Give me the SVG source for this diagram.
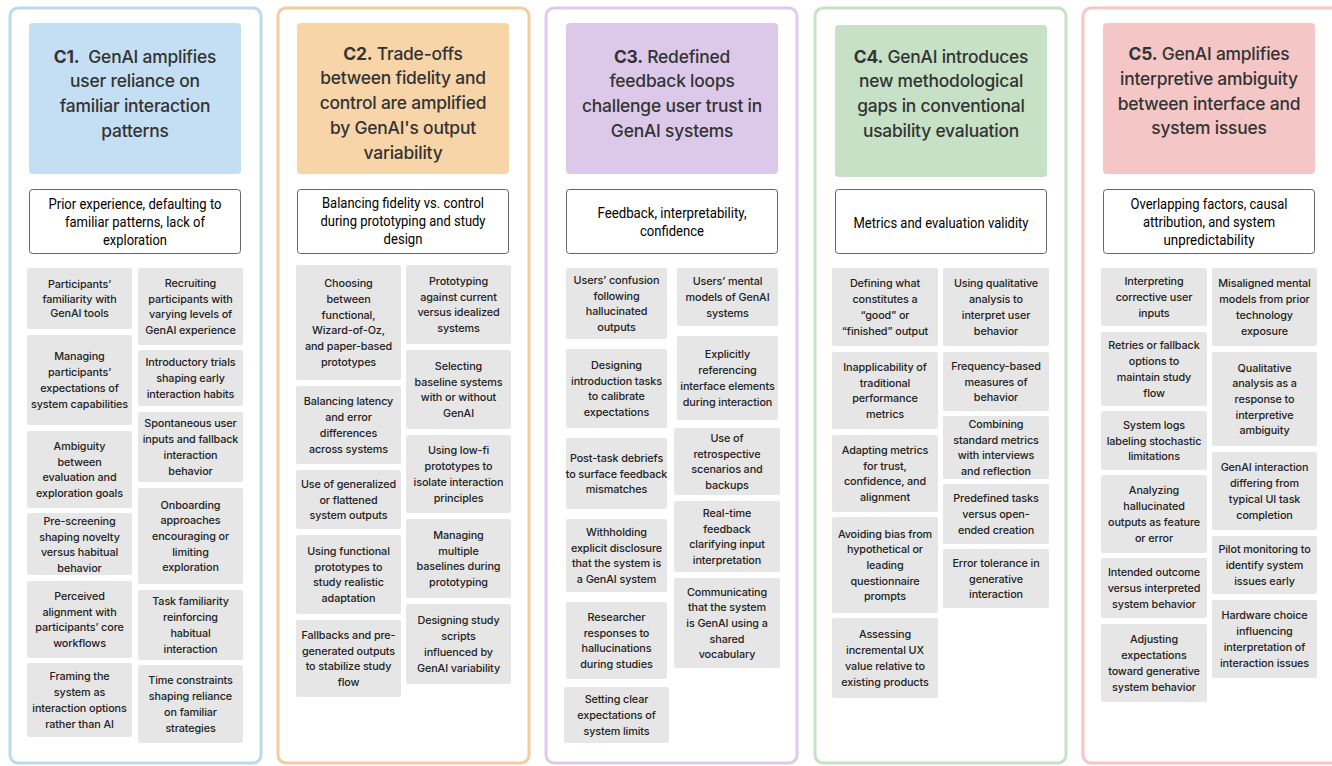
<svg xmlns="http://www.w3.org/2000/svg" width="1332" height="766" viewBox="0 0 1332 766">
<style>
.frame{fill:#ffffff;stroke-width:3}
.title{font-family:Inter,"Noto Sans",sans-serif;font-size:17.4px;font-weight:500;fill:#333333;text-anchor:middle;letter-spacing:-0.2px}
.title .b{font-weight:700}
.subbox{fill:#ffffff;stroke:#666666;stroke-width:1}
.sub{font-family:Roboto,"Liberation Sans",sans-serif;font-size:14.5px;fill:#000000;text-anchor:middle}
.card{fill:#e6e6e6}
.ct{font-family:Inter,"Noto Sans",sans-serif;font-size:10.8px;font-weight:500;fill:#222222;text-anchor:middle;letter-spacing:-0.1px}
</style>
<rect width="1332" height="766" fill="#ffffff"/>

<!-- ================= C1 ================= -->
<g id="col-c1">
<rect class="frame" x="10" y="8" width="251" height="755" rx="8" stroke="#bcdaee"/>
<g id="c1-title">
<rect x="29" y="23" width="212" height="151" rx="4" fill="#c4dff3"/>
<text class="title" y="62.5" xml:space="preserve"><tspan x="135"><tspan class="b">C1.</tspan>  GenAI amplifies</tspan><tspan x="135" dy="24.8">user reliance on</tspan><tspan x="135" dy="24.8">familiar interaction</tspan><tspan x="135" dy="24.8">patterns</tspan></text>
</g>
<g id="c1-sub">
<rect class="subbox" x="29.5" y="189.5" width="211" height="64" rx="3"/>
<text class="sub" x="135" y="208.5" textLength="173" lengthAdjust="spacingAndGlyphs">Prior experience, defaulting to</text>
<text class="sub" x="135" y="226.8" textLength="140" lengthAdjust="spacingAndGlyphs">familiar patterns, lack of</text>
<text class="sub" x="135" y="245" textLength="64" lengthAdjust="spacingAndGlyphs">exploration</text>
</g>
<g id="c1-l1"><rect class="card" x="27" y="268" width="105" height="61" rx="2"/><text class="ct" y="288"><tspan x="79.5">Participants’</tspan><tspan x="79.5" dy="14.5">familiarity with</tspan><tspan x="79.5" dy="14.5">GenAI tools</tspan></text></g>
<g id="c1-l2"><rect class="card" x="27" y="335" width="105" height="90" rx="2"/><text class="ct" y="360.45"><tspan x="79.5">Managing</tspan><tspan x="79.5" dy="15.7">participants’</tspan><tspan x="79.5" dy="15.7">expectations of</tspan><tspan x="79.5" dy="15.7">system capabilities</tspan></text></g>
<g id="c1-l3"><rect class="card" x="27" y="431" width="105" height="77" rx="2"/><text class="ct" y="449.95"><tspan x="79.5">Ambiguity</tspan><tspan x="79.5" dy="15.7">between</tspan><tspan x="79.5" dy="15.7">evaluation and</tspan><tspan x="79.5" dy="15.7">exploration goals</tspan></text></g>
<g id="c1-l4"><rect class="card" x="27" y="513" width="105" height="62" rx="2"/><text class="ct" y="525"><tspan x="79.5">Pre-screening</tspan><tspan x="79.5" dy="15.7">shaping novelty</tspan><tspan x="79.5" dy="15.7">versus habitual</tspan><tspan x="79.5" dy="15.7">behavior</tspan></text></g>
<g id="c1-l5"><rect class="card" x="27" y="581" width="105" height="77" rx="2"/><text class="ct" y="599.95"><tspan x="79.5">Perceived</tspan><tspan x="79.5" dy="15.7">alignment with</tspan><tspan x="79.5" dy="15.7">participants’ core</tspan><tspan x="79.5" dy="15.7">workflows</tspan></text></g>
<g id="c1-l6"><rect class="card" x="27" y="663" width="105" height="74" rx="2"/><text class="ct" y="680.45"><tspan x="79.5">Framing the</tspan><tspan x="79.5" dy="15.7">system as</tspan><tspan x="79.5" dy="15.7">interaction options</tspan><tspan x="79.5" dy="15.7">rather than AI</tspan></text></g>
<g id="c1-r1"><rect class="card" x="138" y="268" width="105" height="77" rx="2"/><text class="ct" y="286.95"><tspan x="190.5">Recruiting</tspan><tspan x="190.5" dy="15.7">participants with</tspan><tspan x="190.5" dy="15.7">varying levels of</tspan><tspan x="190.5" dy="15.7">GenAI experience</tspan></text></g>
<g id="c1-r2"><rect class="card" x="138" y="350" width="105" height="56" rx="2"/><text class="ct" y="366.3"><tspan x="190.5">Introductory trials</tspan><tspan x="190.5" dy="15.7">shaping early</tspan><tspan x="190.5" dy="15.7">interaction habits</tspan></text></g>
<g id="c1-r3"><rect class="card" x="138" y="412" width="105" height="70" rx="2"/><text class="ct" y="427.45"><tspan x="190.5">Spontaneous user</tspan><tspan x="190.5" dy="15.7">inputs and fallback</tspan><tspan x="190.5" dy="15.7">interaction</tspan><tspan x="190.5" dy="15.7">behavior</tspan></text></g>
<g id="c1-r4"><rect class="card" x="138" y="488" width="105" height="96" rx="2"/><text class="ct" y="508.6"><tspan x="190.5">Onboarding</tspan><tspan x="190.5" dy="15.7">approaches</tspan><tspan x="190.5" dy="15.7">encouraging or</tspan><tspan x="190.5" dy="15.7">limiting</tspan><tspan x="190.5" dy="15.7">exploration</tspan></text></g>
<g id="c1-r5"><rect class="card" x="138" y="590" width="105" height="70" rx="2"/><text class="ct" y="605.45"><tspan x="190.5">Task familiarity</tspan><tspan x="190.5" dy="15.7">reinforcing</tspan><tspan x="190.5" dy="15.7">habitual</tspan><tspan x="190.5" dy="15.7">interaction</tspan></text></g>
<g id="c1-r6"><rect class="card" x="138" y="665" width="105" height="78" rx="2"/><text class="ct" y="684.45"><tspan x="190.5">Time constraints</tspan><tspan x="190.5" dy="15.7">shaping reliance</tspan><tspan x="190.5" dy="15.7">on familiar</tspan><tspan x="190.5" dy="15.7">strategies</tspan></text></g>
</g>

<!-- ================= C2 ================= -->
<g id="col-c2">
<rect class="frame" x="278" y="8" width="251" height="755" rx="8" stroke="#f4cc9e"/>
<g id="c2-title">
<rect x="297" y="23" width="212" height="151" rx="4" fill="#f7d5a8"/>
<text class="title" y="59.5"><tspan x="403"><tspan class="b">C2.</tspan> Trade-offs</tspan><tspan x="403" dy="24.8">between fidelity and</tspan><tspan x="403" dy="24.8">control are amplified</tspan><tspan x="403" dy="24.8">by GenAI's output</tspan><tspan x="403" dy="24.8">variability</tspan></text>
</g>
<g id="c2-sub">
<rect class="subbox" x="297.5" y="189.5" width="211" height="64" rx="3"/>
<text class="sub" x="403" y="208" textLength="162" lengthAdjust="spacingAndGlyphs">Balancing fidelity vs. control</text>
<text class="sub" x="403" y="226" textLength="165" lengthAdjust="spacingAndGlyphs">during prototyping and study</text>
<text class="sub" x="403" y="244" textLength="39" lengthAdjust="spacingAndGlyphs">design</text>
</g>
<g id="c2-l1"><rect class="card" x="296" y="265" width="105" height="115" rx="2"/><text class="ct" y="287.25"><tspan x="348.5">Choosing</tspan><tspan x="348.5" dy="15.7">between</tspan><tspan x="348.5" dy="15.7">functional,</tspan><tspan x="348.5" dy="15.7">Wizard-of-Oz,</tspan><tspan x="348.5" dy="15.7">and paper-based</tspan><tspan x="348.5" dy="15.7">prototypes</tspan></text></g>
<g id="c2-l2"><rect class="card" x="296" y="386" width="105" height="78" rx="2"/><text class="ct" y="405.45"><tspan x="348.5">Balancing latency</tspan><tspan x="348.5" dy="15.7">and error</tspan><tspan x="348.5" dy="15.7">differences</tspan><tspan x="348.5" dy="15.7">across systems</tspan></text></g>
<g id="c2-l3"><rect class="card" x="296" y="470" width="105" height="59" rx="2"/><text class="ct" y="487.8"><tspan x="348.5">Use of generalized</tspan><tspan x="348.5" dy="15.7">or flattened</tspan><tspan x="348.5" dy="15.7">system outputs</tspan></text></g>
<g id="c2-l4"><rect class="card" x="296" y="535" width="105" height="79" rx="2"/><text class="ct" y="554.95"><tspan x="348.5">Using functional</tspan><tspan x="348.5" dy="15.7">prototypes to</tspan><tspan x="348.5" dy="15.7">study realistic</tspan><tspan x="348.5" dy="15.7">adaptation</tspan></text></g>
<g id="c2-l5"><rect class="card" x="296" y="620" width="105" height="77" rx="2"/><text class="ct" y="638.95"><tspan x="348.5">Fallbacks and pre-</tspan><tspan x="348.5" dy="15.7">generated outputs</tspan><tspan x="348.5" dy="15.7">to stabilize study</tspan><tspan x="348.5" dy="15.7">flow</tspan></text></g>
<g id="c2-r1"><rect class="card" x="406" y="265" width="105" height="79" rx="2"/><text class="ct" y="284.95"><tspan x="458.5">Prototyping</tspan><tspan x="458.5" dy="15.7">against current</tspan><tspan x="458.5" dy="15.7">versus idealized</tspan><tspan x="458.5" dy="15.7">systems</tspan></text></g>
<g id="c2-r2"><rect class="card" x="406" y="350" width="105" height="79" rx="2"/><text class="ct" y="369.95"><tspan x="458.5">Selecting</tspan><tspan x="458.5" dy="15.7">baseline systems</tspan><tspan x="458.5" dy="15.7">with or without</tspan><tspan x="458.5" dy="15.7">GenAI</tspan></text></g>
<g id="c2-r3"><rect class="card" x="406" y="435" width="105" height="78" rx="2"/><text class="ct" y="454.45"><tspan x="458.5">Using low-fi</tspan><tspan x="458.5" dy="15.7">prototypes to</tspan><tspan x="458.5" dy="15.7">isolate interaction</tspan><tspan x="458.5" dy="15.7">principles</tspan></text></g>
<g id="c2-r4"><rect class="card" x="406" y="519" width="105" height="79" rx="2"/><text class="ct" y="538.95"><tspan x="458.5">Managing</tspan><tspan x="458.5" dy="15.7">multiple</tspan><tspan x="458.5" dy="15.7">baselines during</tspan><tspan x="458.5" dy="15.7">prototyping</tspan></text></g>
<g id="c2-r5"><rect class="card" x="406" y="604" width="105" height="80" rx="2"/><text class="ct" y="624.45"><tspan x="458.5">Designing study</tspan><tspan x="458.5" dy="15.7">scripts</tspan><tspan x="458.5" dy="15.7">influenced by</tspan><tspan x="458.5" dy="15.7">GenAI variability</tspan></text></g>
</g>

<!-- ================= C3 ================= -->
<g id="col-c3">
<rect class="frame" x="546" y="8" width="251" height="755" rx="8" stroke="#dccbec"/>
<g id="c3-title">
<rect x="566" y="23" width="212" height="151" rx="4" fill="#dcc9e9"/>
<text class="title" y="62.5"><tspan x="672"><tspan class="b">C3.</tspan> Redefined</tspan><tspan x="672" dy="24.8">feedback loops</tspan><tspan x="672" dy="24.8">challenge user trust in</tspan><tspan x="672" dy="24.8">GenAI systems</tspan></text>
</g>
<g id="c3-sub">
<rect class="subbox" x="566.5" y="189.5" width="211" height="64" rx="3"/>
<text class="sub" x="672" y="218" textLength="149" lengthAdjust="spacingAndGlyphs">Feedback, interpretability,</text>
<text class="sub" x="672" y="236" textLength="64" lengthAdjust="spacingAndGlyphs">confidence</text>
</g>
<g id="c3-l1"><rect class="card" x="566" y="268" width="101" height="71" rx="2"/><text class="ct" y="283.95"><tspan x="616.5">Users’ confusion</tspan><tspan x="616.5" dy="15.7">following</tspan><tspan x="616.5" dy="15.7">hallucinated</tspan><tspan x="616.5" dy="15.7">outputs</tspan></text></g>
<g id="c3-l2"><rect class="card" x="566" y="349" width="101" height="79" rx="2"/><text class="ct" y="368.95"><tspan x="616.5">Designing</tspan><tspan x="616.5" dy="15.7">introduction tasks</tspan><tspan x="616.5" dy="15.7">to calibrate</tspan><tspan x="616.5" dy="15.7">expectations</tspan></text></g>
<g id="c3-l3"><rect class="card" x="566" y="438" width="101" height="71" rx="2"/><text class="ct" y="461.8"><tspan x="616.5">Post-task debriefs</tspan><tspan x="616.5" dy="15.7">to surface feedback</tspan><tspan x="616.5" dy="15.7">mismatches</tspan></text></g>
<g id="c3-l4"><rect class="card" x="566" y="519" width="101" height="73" rx="2"/><text class="ct" y="535.95"><tspan x="616.5">Withholding</tspan><tspan x="616.5" dy="15.7">explicit disclosure</tspan><tspan x="616.5" dy="15.7">that the system is</tspan><tspan x="616.5" dy="15.7">a GenAI system</tspan></text></g>
<g id="c3-l5"><rect class="card" x="566" y="602" width="101" height="77" rx="2"/><text class="ct" y="620.95"><tspan x="616.5">Researcher</tspan><tspan x="616.5" dy="15.7">responses to</tspan><tspan x="616.5" dy="15.7">hallucinations</tspan><tspan x="616.5" dy="15.7">during studies</tspan></text></g>
<g id="c3-l6"><rect class="card" x="564" y="687" width="105" height="56" rx="2"/><text class="ct" y="703.3"><tspan x="616.5">Setting clear</tspan><tspan x="616.5" dy="15.7">expectations of</tspan><tspan x="616.5" dy="15.7">system limits</tspan></text></g>
<g id="c3-r1"><rect class="card" x="677" y="268" width="101" height="58" rx="2"/><text class="ct" y="285.3"><tspan x="727.5">Users’ mental</tspan><tspan x="727.5" dy="15.7">models of GenAI</tspan><tspan x="727.5" dy="15.7">systems</tspan></text></g>
<g id="c3-r2"><rect class="card" x="677" y="336" width="101" height="84" rx="2"/><text class="ct" y="358.45"><tspan x="727.5">Explicitly</tspan><tspan x="727.5" dy="15.7">referencing</tspan><tspan x="727.5" dy="15.7">interface elements</tspan><tspan x="727.5" dy="15.7">during interaction</tspan></text></g>
<g id="c3-r3"><rect class="card" x="674" y="428" width="106" height="67" rx="2"/><text class="ct" y="441.95"><tspan x="727">Use of</tspan><tspan x="727" dy="15.7">retrospective</tspan><tspan x="727" dy="15.7">scenarios and</tspan><tspan x="727" dy="15.7">backups</tspan></text></g>
<g id="c3-r4"><rect class="card" x="674" y="501" width="106" height="71" rx="2"/><text class="ct" y="516.95"><tspan x="727">Real-time</tspan><tspan x="727" dy="15.7">feedback</tspan><tspan x="727" dy="15.7">clarifying input</tspan><tspan x="727" dy="15.7">interpretation</tspan></text></g>
<g id="c3-r5"><rect class="card" x="674" y="578" width="106" height="90" rx="2"/><text class="ct" y="595.6"><tspan x="727">Communicating</tspan><tspan x="727" dy="15.7">that the system</tspan><tspan x="727" dy="15.7">is GenAI using a</tspan><tspan x="727" dy="15.7">shared</tspan><tspan x="727" dy="15.7">vocabulary</tspan></text></g>
</g>

<!-- ================= C4 ================= -->
<g id="col-c4">
<rect class="frame" x="815" y="8" width="251" height="755" rx="8" stroke="#c5e3c3"/>
<g id="c4-title">
<rect x="835" y="25" width="212" height="152" rx="4" fill="#c6e1c6"/>
<text class="title" y="62.5"><tspan x="941"><tspan class="b">C4.</tspan> GenAI introduces</tspan><tspan x="941" dy="24.8">new methodological</tspan><tspan x="941" dy="24.8">gaps in conventional</tspan><tspan x="941" dy="24.8">usability evaluation</tspan></text>
</g>
<g id="c4-sub">
<rect class="subbox" x="835.5" y="189.5" width="211" height="64" rx="3"/>
<text class="sub" x="941" y="228" textLength="175" lengthAdjust="spacingAndGlyphs">Metrics and evaluation validity</text>
</g>
<g id="c4-l1"><rect class="card" x="832" y="268" width="106" height="78" rx="2"/><text class="ct" y="287.45"><tspan x="885">Defining what</tspan><tspan x="885" dy="15.7">constitutes a</tspan><tspan x="885" dy="15.7">“good” or</tspan><tspan x="885" dy="15.7">“finished” output</tspan></text></g>
<g id="c4-l2"><rect class="card" x="832" y="352" width="106" height="77" rx="2"/><text class="ct" y="370.95"><tspan x="885">Inapplicability of</tspan><tspan x="885" dy="15.7">traditional</tspan><tspan x="885" dy="15.7">performance</tspan><tspan x="885" dy="15.7">metrics</tspan></text></g>
<g id="c4-l3"><rect class="card" x="832" y="435" width="106" height="77" rx="2"/><text class="ct" y="453.95"><tspan x="885">Adapting metrics</tspan><tspan x="885" dy="15.7">for trust,</tspan><tspan x="885" dy="15.7">confidence, and</tspan><tspan x="885" dy="15.7">alignment</tspan></text></g>
<g id="c4-l4"><rect class="card" x="832" y="517" width="106" height="96" rx="2"/><text class="ct" y="537.6"><tspan x="885">Avoiding bias from</tspan><tspan x="885" dy="15.7">hypothetical or</tspan><tspan x="885" dy="15.7">leading</tspan><tspan x="885" dy="15.7">questionnaire</tspan><tspan x="885" dy="15.7">prompts</tspan></text></g>
<g id="c4-l5"><rect class="card" x="832" y="618" width="106" height="80" rx="2"/><text class="ct" y="638.45"><tspan x="885">Assessing</tspan><tspan x="885" dy="15.7">incremental UX</tspan><tspan x="885" dy="15.7">value relative to</tspan><tspan x="885" dy="15.7">existing products</tspan></text></g>
<g id="c4-r1"><rect class="card" x="943" y="268" width="106" height="78" rx="2"/><text class="ct" y="287.45"><tspan x="996">Using qualitative</tspan><tspan x="996" dy="15.7">analysis to</tspan><tspan x="996" dy="15.7">interpret user</tspan><tspan x="996" dy="15.7">behavior</tspan></text></g>
<g id="c4-r2"><rect class="card" x="943" y="352" width="106" height="59" rx="2"/><text class="ct" y="369.8"><tspan x="996">Frequency-based</tspan><tspan x="996" dy="15.7">measures of</tspan><tspan x="996" dy="15.7">behavior</tspan></text></g>
<g id="c4-r3"><rect class="card" x="943" y="416" width="106" height="63" rx="2"/><text class="ct" y="427.95"><tspan x="996">Combining</tspan><tspan x="996" dy="15.7">standard metrics</tspan><tspan x="996" dy="15.7">with interviews</tspan><tspan x="996" dy="15.7">and reflection</tspan></text></g>
<g id="c4-r4"><rect class="card" x="943" y="484" width="106" height="60" rx="2"/><text class="ct" y="502.3"><tspan x="996">Predefined tasks</tspan><tspan x="996" dy="15.7">versus open-</tspan><tspan x="996" dy="15.7">ended creation</tspan></text></g>
<g id="c4-r5"><rect class="card" x="943" y="549" width="106" height="59" rx="2"/><text class="ct" y="566.8"><tspan x="996">Error tolerance in</tspan><tspan x="996" dy="15.7">generative</tspan><tspan x="996" dy="15.7">interaction</tspan></text></g>
</g>

<!-- ================= C5 ================= -->
<g id="col-c5">
<rect class="frame" x="1083" y="8" width="262" height="755" rx="8" stroke="#f6c5c5"/>
<g id="c5-title">
<rect x="1103" y="23" width="212" height="151" rx="4" fill="#f4c6c6"/>
<text class="title" y="60"><tspan x="1209"><tspan class="b">C5.</tspan> GenAI amplifies</tspan><tspan x="1209" dy="24.8">interpretive ambiguity</tspan><tspan x="1209" dy="24.8">between interface and</tspan><tspan x="1209" dy="24.8">system issues</tspan></text>
</g>
<g id="c5-sub">
<rect class="subbox" x="1103.5" y="189.5" width="211" height="64" rx="3"/>
<text class="sub" x="1209" y="208.5" textLength="157" lengthAdjust="spacingAndGlyphs">Overlapping factors, causal</text>
<text class="sub" x="1209" y="226.5" textLength="132" lengthAdjust="spacingAndGlyphs">attribution, and system</text>
<text class="sub" x="1209" y="244.5" textLength="91" lengthAdjust="spacingAndGlyphs">unpredictability</text>
</g>
<g id="c5-l1"><rect class="card" x="1101" y="268" width="106" height="58" rx="2"/><text class="ct" y="285.3"><tspan x="1154">Interpreting</tspan><tspan x="1154" dy="15.7">corrective user</tspan><tspan x="1154" dy="15.7">inputs</tspan></text></g>
<g id="c5-l2"><rect class="card" x="1101" y="332" width="106" height="74" rx="2"/><text class="ct" y="349.45"><tspan x="1154">Retries or fallback</tspan><tspan x="1154" dy="15.7">options to</tspan><tspan x="1154" dy="15.7">maintain study</tspan><tspan x="1154" dy="15.7">flow</tspan></text></g>
<g id="c5-l3"><rect class="card" x="1101" y="411" width="106" height="59" rx="2"/><text class="ct" y="428.8"><tspan x="1154">System logs</tspan><tspan x="1154" dy="15.7">labeling stochastic</tspan><tspan x="1154" dy="15.7">limitations</tspan></text></g>
<g id="c5-l4"><rect class="card" x="1101" y="475" width="106" height="78" rx="2"/><text class="ct" y="494.45"><tspan x="1154">Analyzing</tspan><tspan x="1154" dy="15.7">hallucinated</tspan><tspan x="1154" dy="15.7">outputs as feature</tspan><tspan x="1154" dy="15.7">or error</tspan></text></g>
<g id="c5-l5"><rect class="card" x="1101" y="558" width="106" height="60" rx="2"/><text class="ct" y="576.3"><tspan x="1154">Intended outcome</tspan><tspan x="1154" dy="15.7">versus interpreted</tspan><tspan x="1154" dy="15.7">system behavior</tspan></text></g>
<g id="c5-l6"><rect class="card" x="1101" y="624" width="106" height="78" rx="2"/><text class="ct" y="643.45"><tspan x="1154">Adjusting</tspan><tspan x="1154" dy="15.7">expectations</tspan><tspan x="1154" dy="15.7">toward generative</tspan><tspan x="1154" dy="15.7">system behavior</tspan></text></g>
<g id="c5-r1"><rect class="card" x="1212" y="268" width="105" height="78" rx="2"/><text class="ct" y="287.45"><tspan x="1264.5">Misaligned mental</tspan><tspan x="1264.5" dy="15.7">models from prior</tspan><tspan x="1264.5" dy="15.7">technology</tspan><tspan x="1264.5" dy="15.7">exposure</tspan></text></g>
<g id="c5-r2"><rect class="card" x="1212" y="352" width="105" height="94" rx="2"/><text class="ct" y="371.6"><tspan x="1264.5">Qualitative</tspan><tspan x="1264.5" dy="15.7">analysis as a</tspan><tspan x="1264.5" dy="15.7">response to</tspan><tspan x="1264.5" dy="15.7">interpretive</tspan><tspan x="1264.5" dy="15.7">ambiguity</tspan></text></g>
<g id="c5-r3"><rect class="card" x="1212" y="452" width="105" height="78" rx="2"/><text class="ct" y="471.45"><tspan x="1264.5">GenAI interaction</tspan><tspan x="1264.5" dy="15.7">differing from</tspan><tspan x="1264.5" dy="15.7">typical UI task</tspan><tspan x="1264.5" dy="15.7">completion</tspan></text></g>
<g id="c5-r4"><rect class="card" x="1212" y="536" width="105" height="58" rx="2"/><text class="ct" y="553.3"><tspan x="1264.5">Pilot monitoring to</tspan><tspan x="1264.5" dy="15.7">identify system</tspan><tspan x="1264.5" dy="15.7">issues early</tspan></text></g>
<g id="c5-r5"><rect class="card" x="1212" y="600" width="105" height="78" rx="2"/><text class="ct" y="619.45"><tspan x="1264.5">Hardware choice</tspan><tspan x="1264.5" dy="15.7">influencing</tspan><tspan x="1264.5" dy="15.7">interpretation of</tspan><tspan x="1264.5" dy="15.7">interaction issues</tspan></text></g>
</g>
</svg>
